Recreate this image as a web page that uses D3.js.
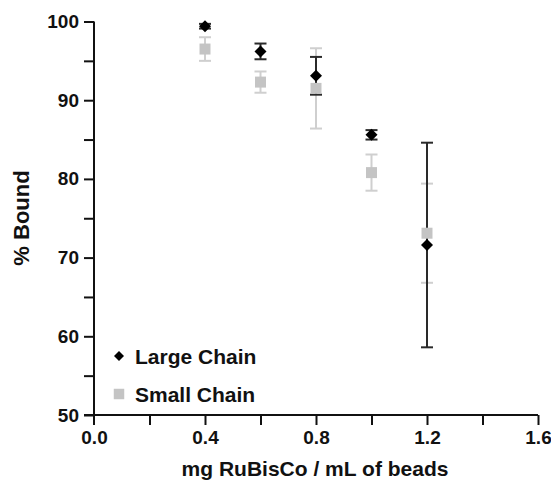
<!DOCTYPE html>
<html>
<head>
<meta charset="utf-8">
<script src="https://cdn.jsdelivr.net/npm/d3@7"></script>
<style>
	body { margin: 0; background: #fff; }
	text { font-family: "Liberation Sans", Arial, sans-serif; font-weight: bold; fill: #111; }
</style>
</head>
<body>
<svg id="chart" width="551" height="484"></svg>
<script>
// data
var doses = [0.4, 0.6, 0.8, 1.0, 1.2];
var largeMean = [99.4, 96.2, 93.1, 85.6, 71.6];
var largeErr = [0.3, 1.0, 2.4, 0.6, 13.0];
var smallMean = [96.5, 92.3, 91.5, 80.8, 73.1];
var smallErr = [1.5, 1.35, 5.1, 2.3, 6.3];
var xTicks = [0.0, 0.4, 0.8, 1.2, 1.6];
var yTicks = [50, 60, 70, 80, 90, 100];

var svg = d3.select("#chart");

var x = d3.scaleLinear().domain([0, 1.6]).range([94, 538]);
var y = d3.scaleLinear().domain([50, 100]).range([415, 21.5]);

function rows(mean, err) {
	return doses.map(function(d, i) { return {x: d, v: mean[i], e: err[i]}; });
}

// axes
var yAxis = d3.axisLeft(y)
		.tickValues(d3.range(50, 100.1, 5))
		.tickSize(10)
		.tickPadding(5)
		.tickFormat(function(d) { return yTicks.indexOf(d) >= 0 ? d : ""; });

var xAxis = d3.axisBottom(x)
		.tickValues(d3.range(0, 1.61, 0.2))
		.tickSize(10)
		.tickPadding(6)
		.tickFormat(function(d) {
			var hit = xTicks.some(function(t) { return Math.abs(t - d) < 1e-6; });
			return hit ? d.toFixed(1) : "";
		});

var gy = svg.append("g").attr("transform", "translate(" + x(0) + ",0)").call(yAxis);
var gx = svg.append("g").attr("transform", "translate(0," + y(50) + ")").call(xAxis);

[gx, gy].forEach(function(g) {
	g.select(".domain").attr("stroke", "#111").attr("stroke-width", 2)
		.attr("d", g === gx ? "M" + (x(0) - 10) + ",0H" + x(1.6) : "M0," + y(100) + "V" + (y(50) + 10));
	g.selectAll(".tick line").attr("stroke", "#111").attr("stroke-width", 2);
	g.selectAll(".tick text")
		.style("font-size", "19px")
		.style("font-family", "'Liberation Sans', Arial, sans-serif")
		.style("font-weight", "bold")
		.attr("fill", "#111");
});
gx.select(".tick line").remove();

// titles
svg.append("text")
		.attr("x", 315)
		.attr("y", 476)
		.attr("text-anchor", "middle")
		.style("font-size", "21px")
		.text("mg RuBisCo / mL of beads");

svg.append("text")
		.attr("transform", "translate(29,218) rotate(-90)")
		.attr("text-anchor", "middle")
		.style("font-size", "22px")
		.text("% Bound");

// error bars
function errorBars(data, color, cls) {
	var g = svg.append("g").attr("class", cls);
	var eb = g.selectAll("g").data(data).enter().append("g");
	eb.append("line")
		.attr("x1", function(d) { return x(d.x); })
		.attr("x2", function(d) { return x(d.x); })
		.attr("y1", function(d) { return y(d.v + d.e); })
		.attr("y2", function(d) { return y(d.v - d.e); });
	eb.append("line")
		.attr("x1", function(d) { return x(d.x) - 6; })
		.attr("x2", function(d) { return x(d.x) + 6; })
		.attr("y1", function(d) { return y(d.v + d.e); })
		.attr("y2", function(d) { return y(d.v + d.e); });
	eb.append("line")
		.attr("x1", function(d) { return x(d.x) - 6; })
		.attr("x2", function(d) { return x(d.x) + 6; })
		.attr("y1", function(d) { return y(d.v - d.e); })
		.attr("y2", function(d) { return y(d.v - d.e); });
	eb.selectAll("line").attr("stroke", color).attr("stroke-width", 2);
}

var small = rows(smallMean, smallErr);
var large = rows(largeMean, largeErr);

errorBars(small, "#cfcfcf", "small-err");
errorBars(large, "#2a2a2a", "large-err");

var sq = d3.symbol().type(d3.symbolSquare).size(121);
var dm = d3.symbol().type(d3.symbolSquare).size(72);

svg.append("g").selectAll("path").data(small).enter().append("path")
		.attr("d", sq)
		.attr("fill", "#c4c4c4")
		.attr("transform", function(d) { return "translate(" + x(d.x) + "," + y(d.v) + ")"; });

svg.append("g").selectAll("path").data(large).enter().append("path")
		.attr("d", dm)
		.attr("fill", "#000")
		.attr("transform", function(d) { return "translate(" + x(d.x) + "," + y(d.v) + ") rotate(45)"; });

// legend
var legend = svg.append("g").attr("class", "legend");
legend.append("path").attr("d", d3.symbol().type(d3.symbolSquare).size(50)).attr("fill", "#000")
		.attr("transform", "translate(119,356) rotate(45)");
legend.append("text").attr("x", 135).attr("y", 364).style("font-size", "21px").text("Large Chain");
legend.append("path").attr("d", d3.symbol().type(d3.symbolSquare).size(110)).attr("fill", "#c4c4c4")
		.attr("transform", "translate(119,394)");
legend.append("text").attr("x", 135).attr("y", 402).style("font-size", "21px").text("Small Chain");
</script>
</body>
</html>
